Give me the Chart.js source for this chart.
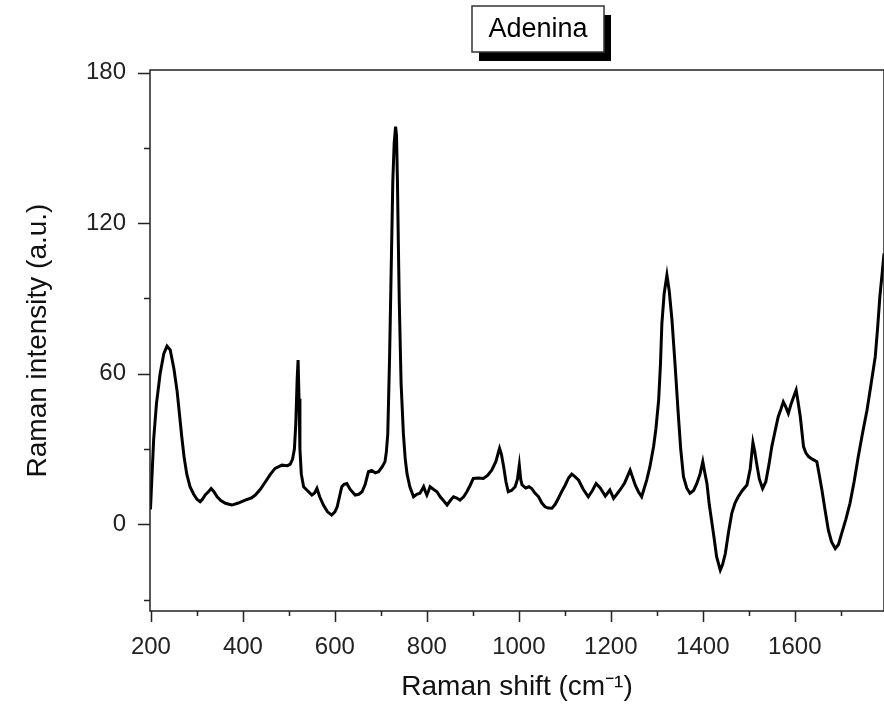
<!DOCTYPE html>
<html>
<head>
<meta charset="utf-8">
<script src="https://cdn.jsdelivr.net/npm/chart.js@4.4.1/dist/chart.umd.min.js"></script>
<style>
  html, body { margin: 0; padding: 0; background: #fff; }
  #wrap { width: 884px; height: 707px; }
</style>
</head>
<body>
<div id="wrap"><canvas id="chart"></canvas></div>
<script>
const chartTitle = 'Adenina';

// Raman spectrum
const ramanShift = [
  199, 203, 206, 212, 220, 228, 235, 242, 250, 257, 262, 267, 272, 278, 285, 293, 300, 307, 312, 318,
  325, 331, 337, 344, 352, 362, 376, 390, 405, 418, 427, 438, 449, 460, 470, 485, 497, 503, 508, 512,
  515, 518, 520, 522, 524, 527, 532, 540, 550, 556, 561, 567, 575, 584, 593, 600, 605, 610, 615, 620,
  626, 633, 644, 652, 659, 666, 673, 680, 688, 695, 703, 709, 712, 715, 719, 722, 726, 729, 732, 734,
  736, 738, 740, 744, 749, 753, 757, 763, 771, 778, 785, 790, 793, 797, 800, 804, 807, 814, 822, 829,
  836, 844, 851, 858, 865, 872, 880, 887, 894, 901, 912, 923, 932, 941, 950, 958, 962, 967, 972, 977,
  984, 992, 997, 1001, 1004, 1007, 1015, 1022, 1028, 1035, 1043, 1050, 1057, 1064, 1072, 1079, 1086, 1093, 1101, 1108,
  1115, 1122, 1130, 1140, 1151, 1160, 1168, 1177, 1188, 1198, 1206, 1213, 1220, 1230, 1242, 1247, 1253, 1260, 1267, 1272,
  1278, 1285, 1293, 1298, 1304, 1308, 1311, 1316, 1322, 1327, 1333, 1340, 1347, 1352, 1358, 1365, 1372, 1380, 1387, 1394,
  1400, 1404, 1409, 1414, 1420, 1425, 1430, 1438, 1443, 1449, 1456, 1463, 1470, 1477, 1486, 1496, 1503, 1509, 1513, 1517,
  1523, 1530, 1537, 1544, 1550, 1557, 1564, 1570, 1575, 1580, 1586, 1592, 1598, 1603, 1607, 1612, 1619, 1624, 1630, 1638,
  1648, 1653, 1659, 1666, 1673, 1680, 1688, 1695, 1702, 1711, 1720, 1729, 1738, 1747, 1757, 1766, 1775, 1780, 1785, 1790,
  1794
];
const intensity = [
  6, 22, 34, 48, 60, 68, 71, 69.5, 62, 53, 44, 35, 27, 20, 15, 12, 10, 9, 10, 11.7,
  13, 14.3, 13, 11, 9.5, 8.4, 7.7, 8.5, 9.7, 10.5, 11.7, 14, 17, 20, 22.3, 23.6, 23.4, 24, 26, 30,
  40, 58, 65.5, 50, 30, 20, 15, 13.5, 11.7, 12.5, 14.3, 11, 7.7, 5, 3.7, 5, 7, 11, 15, 16,
  16.3, 14, 11.7, 12, 13, 16, 21, 21.5, 20.5, 21, 23, 25, 29, 36, 67, 97, 137, 152, 158.4, 155,
  137, 112, 89, 56, 36, 26, 20, 15, 11, 12, 12.4, 14, 15, 13, 11.7, 13.5, 15, 14, 13, 11,
  9.5, 7.7, 9.5, 11, 10.5, 9.7, 11, 13, 15.5, 18.3, 18.5, 18.3, 19.5, 21.6, 25, 30.3, 28, 23, 17, 13,
  13.5, 15, 18, 23.6, 18, 15.7, 14.5, 15, 14.3, 12.5, 11, 8.5, 7, 6.5, 6.4, 8, 10.4, 13, 15.7, 18.5,
  20, 19, 17.6, 14, 11, 13.5, 16.3, 14.5, 11.3, 13.7, 10.4, 12, 13.7, 16.5, 21.6, 19, 15.7, 13, 11, 14,
  17.6, 23, 31, 38, 49.5, 64, 80, 92, 99.3, 93, 81.4, 62.8, 42.9, 30, 19, 14.5, 12.4, 13.5, 16.3, 20,
  25, 21, 16.3, 8, 0.4, -6, -12.9, -18.2, -16, -11.6, -3, 4.4, 8.5, 11, 13.5, 15.7, 22, 32.6, 29, 24.3,
  18, 14.3, 17, 24, 31, 37, 42.9, 46, 48.8, 47, 44.2, 48, 51, 53.5, 49, 42.9, 31, 28.5, 27, 26,
  25, 20, 13.7, 5.5, -2.3, -7, -9.6, -8, -3.6, 2, 8.4, 17, 26.9, 36, 45.5, 56, 66.8, 78, 90.7, 100,
  108
];

// axis ticks (labelled ones get long marks)
const xTicks = [200, 300, 400, 500, 600, 700, 800, 900, 1000, 1100, 1200, 1300, 1400, 1500, 1600, 1700];
const xLabelled = [200, 400, 600, 800, 1000, 1200, 1400, 1600];
const yTicks = [-30, 0, 30, 60, 90, 120, 150, 180];
const yLabelled = [0, 60, 120, 180];

const fontFamily = "'Liberation Sans', Arial, sans-serif";

const originFrame = {
  id: 'originFrame',
  afterDraw: (chart) => {
    const {ctx, chartArea: a, scales} = chart;
    ctx.save();
    ctx.strokeStyle = '#222';
    ctx.lineWidth = 1.5;
    ctx.strokeRect(a.left, a.top, a.right - a.left, a.bottom - a.top);

    ctx.beginPath();
    yTicks.forEach(v => {
      const py = Math.round(scales.y.getPixelForValue(v)) + 0.5;
      const len = yLabelled.includes(v) ? 12 : 6;
      ctx.moveTo(a.left - len, py);
      ctx.lineTo(a.left, py);
    });
    xTicks.forEach(v => {
      const px = Math.round(scales.x.getPixelForValue(v)) + 0.5;
      const len = xLabelled.includes(v) ? 11 : 5;
      ctx.moveTo(px, a.bottom);
      ctx.lineTo(px, a.bottom + len);
    });
    ctx.stroke();

    // title box with drop shadow
    const bx = 472, by = 6, bw = 132, bh = 46;
    ctx.fillStyle = '#000';
    ctx.fillRect(bx + 7, by + 9, bw, bh);
    ctx.fillStyle = '#fff';
    ctx.fillRect(bx, by, bw, bh);
    ctx.lineWidth = 1.5;
    ctx.strokeStyle = '#333';
    ctx.strokeRect(bx, by, bw, bh);
    ctx.fillStyle = '#000';
    ctx.font = '27px ' + fontFamily;
    ctx.textAlign = 'center';
    ctx.textBaseline = 'middle';
    ctx.fillText(chartTitle, bx + bw / 2, by + bh / 2 + 1);
    ctx.restore();
  }
};

new Chart(document.getElementById('chart'), {
  type: 'line',
  data: {
    datasets: [{
      label: chartTitle,
      data: ramanShift.map((x, i) => ({x: x, y: intensity[i]})),
      borderColor: '#000',
      borderWidth: 3,
      pointRadius: 0,
      tension: 0,
      fill: false
    }]
  },
  options: {
    responsive: true,
    maintainAspectRatio: false,
    animation: false,
    layout: {padding: {top: 70, right: 0, bottom: 0, left: 0}},
    plugins: {
      legend: {display: false},
      tooltip: {enabled: false}
    },
    scales: {
      x: {
        type: 'linear',
        min: 198,
        max: 1794,
        grid: {display: false},
        border: {display: false},
        afterBuildTicks: (scale) => {
          scale.ticks = xTicks.map(v => ({value: v}));
        },
        afterFit: (scale) => {
          scale.height = 96;
        },
        ticks: {
          autoSkip: false,
          maxRotation: 0,
          padding: 14,
          color: '#222',
          font: {family: fontFamily, size: 24},
          callback: (value) => xLabelled.includes(value) ? String(value) : ''
        },
        title: {
          display: true,
          text: 'Raman shift (cm⁻¹)',
          color: '#111',
          font: {family: fontFamily, size: 28},
          padding: {top: 0, bottom: 3}
        }
      },
      y: {
        type: 'linear',
        min: -34.5,
        max: 181,
        grid: {display: false},
        border: {display: false},
        afterBuildTicks: (scale) => {
          scale.ticks = yTicks.map(v => ({value: v}));
        },
        afterFit: (scale) => {
          scale.width = 150;
        },
        ticks: {
          autoSkip: false,
          padding: 16,
          color: '#222',
          font: {family: fontFamily, size: 24},
          callback: (value) => yLabelled.includes(value) ? String(value) : ''
        },
        title: {
          display: true,
          text: 'Raman intensity (a.u.)',
          color: '#111',
          font: {family: fontFamily, size: 28},
          padding: {top: 21, bottom: 0}
        }
      }
    }
  },
  plugins: [originFrame]
});
</script>
</body>
</html>
